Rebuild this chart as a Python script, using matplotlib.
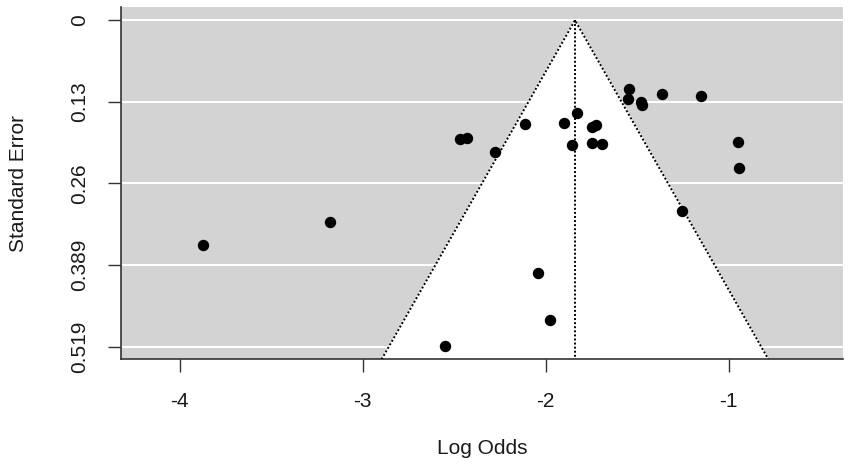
import numpy as np
import matplotlib
matplotlib.use('Agg')
import matplotlib.pyplot as plt

# study estimates
log_odds = [-3.873, -3.177, -2.468, -2.432, -2.279, -2.111, -1.900, -1.831,
            -1.856, -1.745, -1.726, -1.747, -1.692, -1.543, -1.552, -1.478,
            -1.472, -1.364, -1.153, -0.951, -0.942, -1.254, -2.044, -1.975,
            -2.552]
std_err = [0.3568, 0.3212, 0.1892, 0.1867, 0.2099, 0.1654, 0.1638, 0.1469,
           0.1983, 0.1699, 0.1669, 0.1951, 0.1972, 0.1097, 0.1256, 0.1295,
           0.1345, 0.1177, 0.1204, 0.1935, 0.2353, 0.3027, 0.4013, 0.4765,
           0.5184]
pooled = -1.840
se_ticks = [0, 0.1297, 0.2595, 0.3892, 0.519]
se_labels = ['0', '0.13', '0.26', '0.389', '0.519']
x_ticks = [-4, -3, -2, -1]

plt.rcParams['font.family'] = ['Liberation Sans', 'DejaVu Sans']
txt_col = '#1a1a1a'
fsize = 15

fig = plt.figure(figsize=(8.51, 4.67), dpi=100)
ax = fig.add_axes([0.1418, 0.2306, 0.991 - 0.1418, 0.9857 - 0.2306])

xlim = (-4.322, -0.374)
ylim = (0.539, -0.0216)
ax.set_xlim(xlim)
ax.set_ylim(ylim)
ax.set_facecolor('#d3d3d3')

# white reference lines, then funnel region on top
for s in se_ticks:
    ax.axhline(s, color='white', lw=1.5, zorder=1)

se_low = ylim[0]
fx = [pooled - 1.96 * se_low, pooled, pooled + 1.96 * se_low]
fy = [se_low, 0, se_low]
ax.fill(fx, fy, color='white', zorder=2)
ax.plot(fx, fy, color='black', ls=(0, (1, 1.1)), lw=1.4, zorder=3)
ax.plot([pooled, pooled], [0, se_low], color='black', ls=(0, (1, 1.1)),
        lw=1.4, zorder=3)

ax.plot(log_odds, std_err, 'o', color='black', ms=7.2, zorder=4)

ax.set_yticks(se_ticks)
ax.set_yticklabels(se_labels, rotation=90, va='center')
ax.set_xticks(x_ticks)
ax.set_xticklabels([str(v) for v in x_ticks])
ax.tick_params(axis='both', direction='out', length=9.5, width=1.0,
               labelsize=fsize, colors='#333333', labelcolor=txt_col)
ax.tick_params(axis='x', pad=14)
ax.tick_params(axis='y', pad=13)

for side in ['top', 'right']:
    ax.spines[side].set_visible(False)
for side in ['left', 'bottom']:
    ax.spines[side].set_color('#333333')
    ax.spines[side].set_linewidth(1.2)

fig.text(0.5665, 1 - 449 / 467, 'Log Odds', ha='center', va='center',
         fontsize=fsize, color=txt_col)
fig.text(18.3 / 851, 1 - 183 / 467, 'Standard Error', ha='center',
         va='center', rotation=90, fontsize=fsize, color=txt_col)

fig.savefig('out.png', dpi=100)
